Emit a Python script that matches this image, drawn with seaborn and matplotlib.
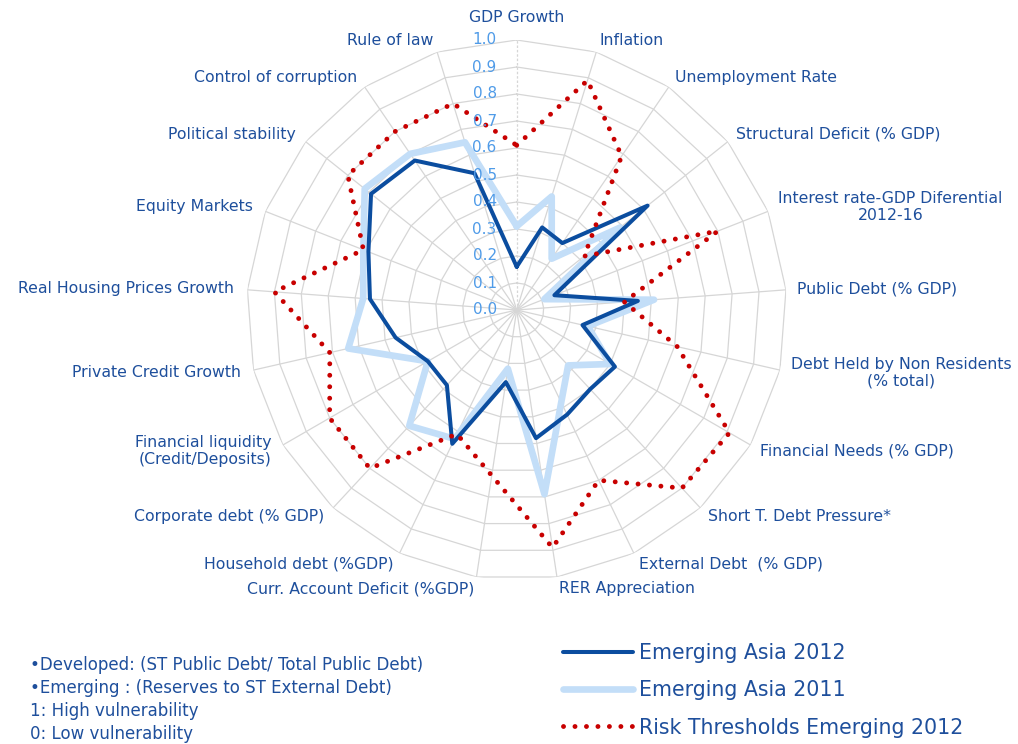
import numpy as np
import pandas as pd
import matplotlib
matplotlib.use("Agg")
import matplotlib.pyplot as plt
import seaborn as sns

# ---------------- data ----------------
categories = [
    "GDP Growth", "Inflation", "Unemployment Rate", "Structural Deficit (% GDP)",
    "Interest rate-GDP Diferential\n2012-16", "Public Debt (% GDP)",
    "Debt Held by Non Residents\n(% total)", "Financial Needs (% GDP)",
    "Short T. Debt Pressure*", "External Debt  (% GDP)", "RER Appreciation",
    "Curr. Account Deficit (%GDP)", "Household debt (%GDP)", "Corporate debt (% GDP)",
    "Financial liquidity\n(Credit/Deposits)", "Private Credit Growth",
    "Real Housing Prices Growth", "Equity Markets", "Political stability",
    "Control of corruption", "Rule of law",
]
asia_2012 = [0.16, 0.32, 0.30, 0.62, 0.15, 0.45, 0.25, 0.42, 0.40, 0.43, 0.48,
             0.27, 0.55, 0.38, 0.38, 0.46, 0.545, 0.59, 0.69, 0.67, 0.53]
asia_2011 = [0.31, 0.44, 0.23, 0.49, 0.11, 0.51, 0.27, 0.40, 0.28, 0.38, 0.69,
             0.22, 0.53, 0.585, 0.38, 0.64, 0.57, 0.61, 0.72, 0.70, 0.65]
risk_2012 = [0.61, 0.89, 0.69, 0.32, 0.80, 0.40, 0.61, 0.91, 0.90, 0.70, 0.89,
             0.62, 0.51, 0.80, 0.80, 0.71, 0.90, 0.61, 0.80, 0.80, 0.80]
series_names = ["Emerging Asia 2012", "Emerging Asia 2011", "Risk Thresholds Emerging 2012"]
r_ticks = [0.0, 0.1, 0.2, 0.3, 0.4, 0.5, 0.6, 0.7, 0.8, 0.9, 1.0]
footnotes = ["\u2022Developed: (ST Public Debt/ Total Public Debt)",
             "\u2022Emerging : (Reserves to ST External Debt)",
             "1: High vulnerability",
             "0: Low vulnerability"]

# ---------------- style ----------------
sns.set_theme(style="white")
plt.rcParams["font.family"] = ["DejaVu Sans"]

DARK = "#0b4d9f"
LIGHT = "#c3def8"
RED = "#c80000"
TEXT = "#1e4f9c"
TICK = "#4f9be8"
GRID = "#d6d6d6"

W, H = 1018, 744
fig = plt.figure(figsize=(W / 100, H / 100), dpi=100)
cx, cy, R = 516.7, 310, 270
ax = fig.add_axes([(cx - R) / W, 1 - (cy + R) / H, 2 * R / W, 2 * R / H], projection="polar")
ax.set_theta_zero_location("N")
ax.set_theta_direction(-1)
ax.grid(False)
ax.spines["polar"].set_visible(False)
ax.set_facecolor("white")

n = len(categories)
theta = np.arange(n) * 2 * np.pi / n
theta_c = np.append(theta, theta[0])

# polygon grid + spokes
for lvl in r_ticks[1:]:
    ax.plot(theta_c, [lvl] * (n + 1), color=GRID, lw=0.9, zorder=1)
for k, t in enumerate(theta):
    ax.plot([t, t], [0, 1], color=GRID, lw=0.9, zorder=1,
            linestyle=(0, (2, 1.5)) if k == 0 else "-")

# data lines via seaborn
def closed(vals):
    return pd.DataFrame({"theta": theta_c, "r": list(vals) + [vals[0]]})

sns.lineplot(data=closed(asia_2011), x="theta", y="r", ax=ax, sort=False, estimator=None,
             color=LIGHT, lw=4.8, label=series_names[1], zorder=3, legend=False)
sns.lineplot(data=closed(asia_2012), x="theta", y="r", ax=ax, sort=False, estimator=None,
             color=DARK, lw=2.9, label=series_names[0], zorder=4, legend=False)
sns.lineplot(data=closed(risk_2012), x="theta", y="r", ax=ax, sort=False, estimator=None,
             color=RED, lw=3.5, label=series_names[2], zorder=5, legend=False,
             linestyle=(0, (0.01, 2.35)), dash_capstyle="round")

ax.set_ylim(0, 1)
ax.set_xticks([])
ax.set_yticks([])
ax.set_xlabel("")
ax.set_ylabel("")

PT = 0.72  # px -> pt at 100 dpi

# radial tick labels
for r in r_ticks:
    ax.annotate(f"{r:.1f}", xy=(0, r), xytext=(-20 * PT, 0), textcoords="offset points",
                ha="right", va="center", fontsize=11, color=TICK, zorder=6)

# category labels
for k, (t, lab) in enumerate(zip(theta, categories)):
    s, c = np.sin(t), np.cos(t)
    dx = 11 * s if s > 0 else 13 * s
    dy = 12 * c
    if k == 0:
        dy = 22
    if s > 0.05:
        ha = "left"
    elif s < -0.05:
        ha = "right"
    else:
        ha = "center"
    ma = "center" if ha != "right" else "right"
    ax.annotate(lab, xy=(t, 1.0), xytext=(dx * PT, dy * PT), textcoords="offset points",
                ha=ha, va="center", multialignment=ma, fontsize=11.3, color=TEXT,
                annotation_clip=False)

# legend
handles, labels = ax.get_legend_handles_labels()
order = [labels.index(nm) for nm in series_names]
fig.legend([handles[i] for i in order], [labels[i] for i in order],
           loc="upper left", bbox_to_anchor=(563 / W, 1 - 643 / H), frameon=False,
           fontsize=14.8, handlelength=3.4, handletextpad=0.3, labelspacing=0.84,
           borderpad=0, borderaxespad=0, labelcolor=TEXT)

# footnotes
for i, line in enumerate(footnotes):
    fig.text(30 / W, 1 - (665 + 23 * i) / H, line, ha="left", va="center",
             fontsize=12, color=TEXT)

fig.savefig("out.png", dpi=100, facecolor="white")
